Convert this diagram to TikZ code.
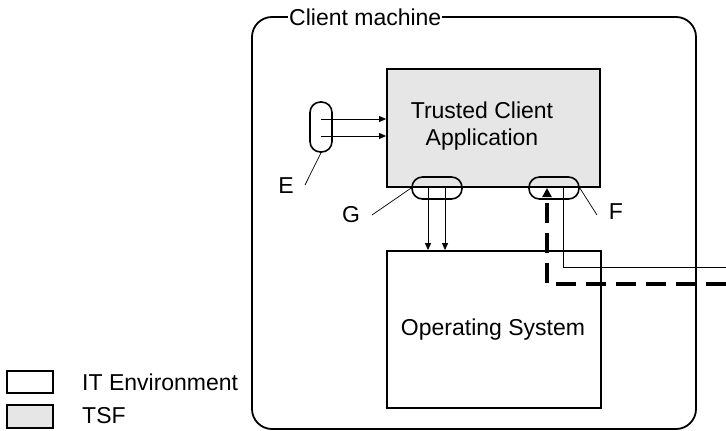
\documentclass[tikz,border=0pt]{standalone}
\usepackage{fontspec}
\setmainfont{Liberation Sans}
\usetikzlibrary{arrows.meta,calc}
\definecolor{tsfgray}{HTML}{E6E6E6}
\begin{document}
\begin{tikzpicture}[x=1pt,y=-1pt,
  box/.style={draw,line width=1.8pt,inner sep=0pt},
  tsfbox/.style={box,fill=tsfgray},
  pill/.style={draw,line width=1.6pt,rounded corners=10.5pt,inner sep=0pt},
  thinline/.style={line width=0.9pt},
  arr/.style={thinline,-{Triangle[length=7pt,width=6pt]}},
  lbl/.style={font=\fontsize{23}{27}\selectfont,inner sep=0pt}]
\useasboundingbox (0,0) rectangle (726,431);
% client machine
\node[box,rounded corners=20pt,minimum width=444pt,minimum height=412pt] (client) at (474,223) {};
\node[lbl,fill=white,inner xsep=1pt,anchor=west] (clientlbl) at (288,17) {Client machine};
% TCA
\node[tsfbox,minimum width=213pt,minimum height=118pt] (TCA) at (493.5,128) {};
\node[lbl,align=center] (tcatext) at (482,126) {Trusted Client\\Application};
% OS
\node[box,minimum width=214pt,minimum height=157pt] (OS) at (494,329.5) {};
\node[lbl] (ostext) at (493,330) {Operating System};
% pills
\node[pill,minimum width=22pt,minimum height=50pt] (E) at (321,127) {};
\node[pill,minimum width=50pt,minimum height=22pt] (G) at (437,188) {};
\node[pill,minimum width=50pt,minimum height=22pt] (F) at (554,188) {};
% labels
\node[lbl] (Elbl) at (286,186) {E};
\node[lbl] (Glbl) at (351,215) {G};
\node[lbl] (Flbl) at (616,212) {F};
\draw[line width=0.7pt] (305,185) -- (E.south);
\draw[line width=0.7pt] (372,215) -- (G.west);
\draw[line width=0.7pt] (597,215) -- (F.east);
% arrows E -> TCA
\draw[arr] (E.center |- 0,119) -- (TCA.west |- 0,119);
\draw[arr] (E.center |- 0,136) -- (TCA.west |- 0,136);
% arrows G -> OS
\draw[arr] (G.center -| 428,0) -- (OS.north -| 428,0);
\draw[arr] (G.center -| 445,0) -- (OS.north -| 445,0);
% thin line from F
\coordinate (fend) at (726,267);
\draw[thinline] (F.center -| 563,0) -- (563,267) -- (fend);
% dashed thick
\coordinate (dend) at (726,284);
\draw[line width=3.2pt,dash pattern=on 20pt off 10pt,-{Triangle[length=9pt,width=9pt]}] (dend) -- (547,284) -- (F.center -| 547,0);
% legend
\node[box,line width=1.5pt,minimum width=46pt,minimum height=22pt] (leg1) at (30,382) {};
\node[tsfbox,line width=1.5pt,minimum width=46pt,minimum height=23pt] (leg2) at (30,416.5) {};
\node[lbl,anchor=west] (leg1t) at (82,382) {IT Environment};
\node[lbl,anchor=west] (leg2t) at (82,416) {TSF};
\end{tikzpicture}
\end{document}
